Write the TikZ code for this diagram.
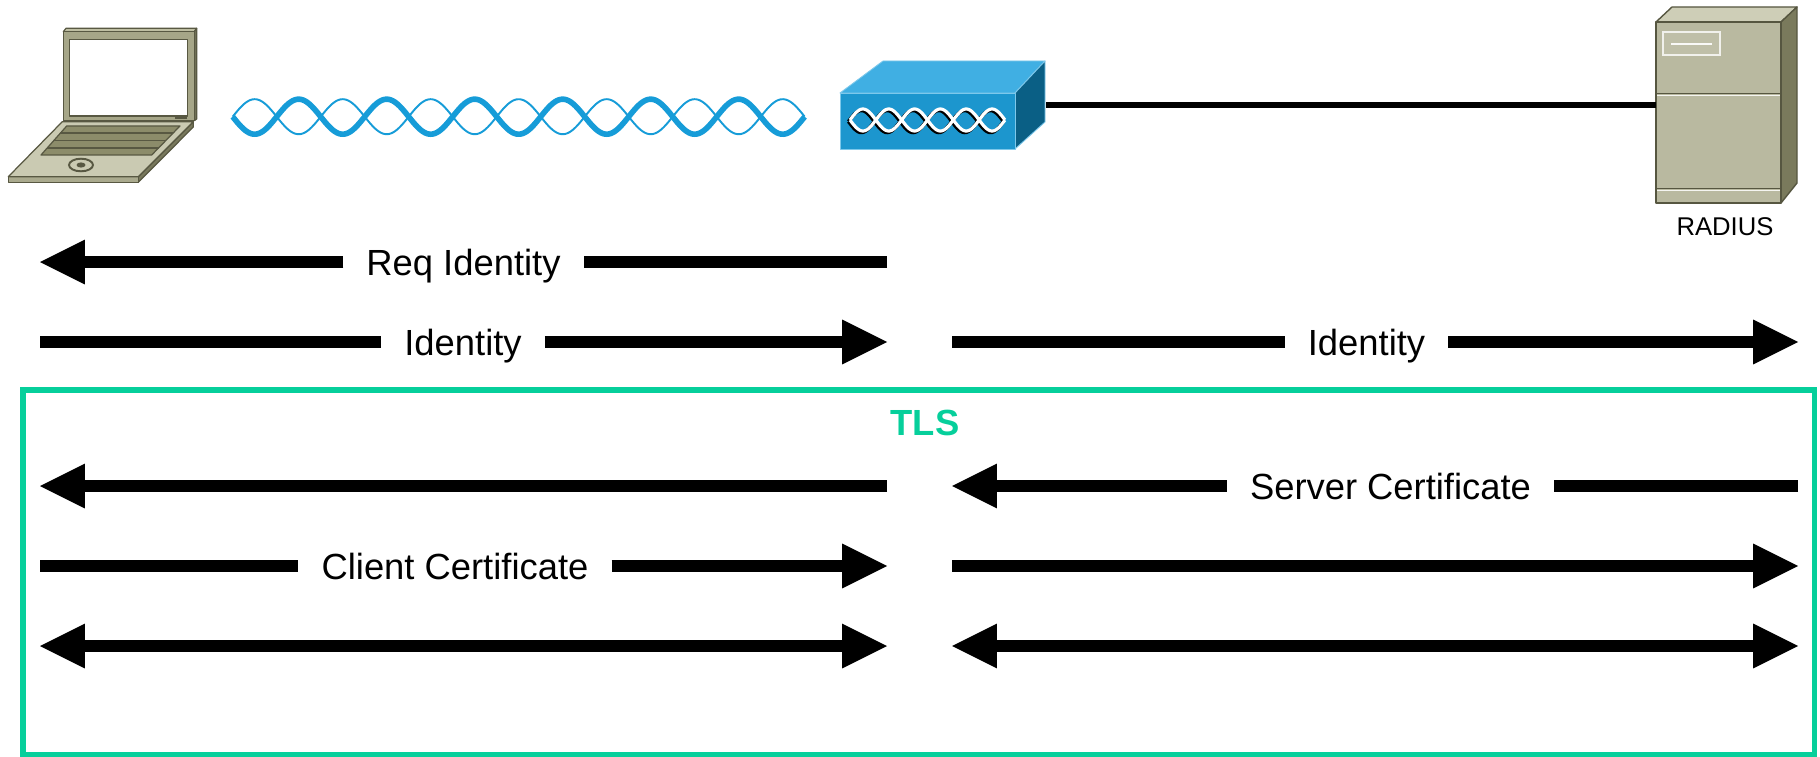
\documentclass[tikz,border=0pt]{standalone}
\usepackage{fontspec}
\setmainfont{Liberation Sans}
\usetikzlibrary{arrows.meta,fit,calc}

% laptop palette
\definecolor{lpLid}{RGB}{166,166,136}
\definecolor{lpLidTop}{RGB}{190,190,162}
\definecolor{lpLidSide}{RGB}{112,112,86}
\definecolor{lpBaseTop}{RGB}{202,202,178}
\definecolor{lpBaseFront}{RGB}{170,170,142}
\definecolor{lpBaseSide}{RGB}{120,120,92}
\definecolor{lpKeys}{RGB}{140,140,106}
\definecolor{lpLine}{RGB}{88,88,66}
% server palette
\definecolor{svFront}{RGB}{185,185,160}
\definecolor{svTop}{RGB}{206,206,183}
\definecolor{svSide}{RGB}{122,122,92}
\definecolor{svLine}{RGB}{86,86,64}
% access point palette
\definecolor{apTop}{RGB}{64,175,227}
\definecolor{apFront}{RGB}{28,150,206}
\definecolor{apSide}{RGB}{10,95,133}
\definecolor{apEdge}{RGB}{125,200,235}
% misc
\definecolor{radio}{RGB}{22,156,216}
\definecolor{tlsGreen}{RGB}{6,207,155}

\tikzset{
  >={Triangle[length=25.5pt,width=25.5pt,line width=0pt]},
  msg/.style={line width=6.8pt,black},
  lbl/.style={font=\fontsize{20.7pt}{24pt}\selectfont, inner xsep=13pt, inner ysep=0pt,
              text height=14.8pt, text depth=0pt, anchor=center},
  lpdraw/.style={draw=lpLine, line width=0.7pt, line join=round},
  svdraw/.style={draw=svLine, line width=0.8pt, line join=round},
  apdraw/.style={draw=apEdge, line width=0.5pt, line join=round},
}

\begin{document}
\begin{tikzpicture}[x=0.02cm, y=-0.02cm]
\useasboundingbox (0,0) rectangle (1820,757);

% ---------- laptop ----------
\filldraw[lpdraw, fill=lpLidTop] (63.3,31.7) -- (66,28.3) -- (196.7,28.3) -- (194.3,31.7) -- cycle;
\filldraw[lpdraw, fill=lpLidSide] (194.3,31.7) -- (196.7,28.3) -- (196.7,119) -- (194.3,120.7) -- cycle;
\filldraw[lpdraw, fill=lpLid] (63.3,31.7) rectangle (194.3,120.7);
\filldraw[lpdraw, fill=white] (69.3,39.3) rectangle (187.3,116);
\fill[lpLine] (175,116.8) rectangle (186.5,118.8);
\filldraw[lpdraw, fill=lpBaseSide] (138.3,176.7) -- (193.3,121.7) -- (193.3,127) -- (138.3,182.3) -- cycle;
\filldraw[lpdraw, fill=lpBaseFront] (8.3,176.7) rectangle (138.3,182.3);
\filldraw[lpdraw, fill=lpBaseTop] (62.3,121.7) -- (193.3,121.7) -- (138.3,176.7) -- (8.3,176.7) -- cycle;
\filldraw[lpdraw, fill=lpKeys] (66.7,126) -- (180,126) -- (151.7,155) -- (41,155) -- cycle;
\foreach \t in {0.25,0.5,0.75}
  \draw[lpLine, line width=0.9pt] ($(66.7,126)!\t!(41,155)$) -- ($(180,126)!\t!(151.7,155)$);
\draw[lpLine, line width=1.1pt] (81,165) ellipse [x radius=12, y radius=6.3];
\fill[lpLine] (81,165) ellipse [x radius=4.5, y radius=2.6];
\node[fit={(8,28) (197,182)}, inner sep=0pt] (laptop) {};

% ---------- radio link ----------
\draw[radio, line width=1.1pt] plot[domain=0:13, samples=400, smooth]
  ({232.7+\x*44.0},{116.7-17.5*sin(\x*180)});
\draw[radio, line width=3.2pt] plot[domain=0:13, samples=400, smooth]
  ({232.7+\x*44.0},{116.7+17.5*sin(\x*180)});

% ---------- access point ----------
\filldraw[apdraw, fill=apTop] (840,93) -- (883,61) -- (1045,61) -- (1015,93) -- cycle;
\filldraw[apdraw, fill=apSide] (1015,93) -- (1045,61) -- (1045,122) -- (1015,149) -- cycle;
\filldraw[apdraw, fill=apFront] (840,93) rectangle (1015,149);
\foreach \s in {1,-1}{
  \draw[black, line width=2pt] plot[domain=0:6, samples=200, smooth]
    ({848.5+\x*25.83},{121.5+\s*11*sin(\x*180)});
}
\foreach \s in {1,-1}{
  \draw[white, line width=1.8pt] plot[domain=0:6, samples=200, smooth]
    ({850+\x*25.83},{120+\s*11*sin(\x*180)});
}
\node[fit={(840,61) (1046,149)}, inner sep=0pt] (ap) {};

% ---------- RADIUS server ----------
\filldraw[svdraw, fill=svTop] (1656,22) -- (1672,7) -- (1797,7) -- (1781,22) -- cycle;
\filldraw[svdraw, fill=svSide] (1781,22) -- (1797,7) -- (1797,183) -- (1781,203) -- cycle;
\filldraw[svdraw, fill=svFront] (1656,22) rectangle (1781,203);
\draw[svLine, line width=1pt] (1656,93.5) -- (1781,93.5);
\draw[white!85!svFront, line width=0.8pt] (1657,95.5) -- (1780,95.5);
\draw[svLine, line width=1pt] (1656,188.5) -- (1781,188.5);
\draw[white!85!svFront, line width=0.8pt] (1657,190.5) -- (1780,190.5);
\filldraw[draw=white!80!svFront, fill=svFront!92!white, line width=0.8pt] (1663,32) rectangle (1720,55);
\draw[white!92!svFront, line width=1.3pt] (1671,44) -- (1712,44);
\node[fit={(1656,7) (1797,203)}, inner sep=0pt] (server) {};
\node[font=\fontsize{14.6pt}{17pt}\selectfont, inner sep=0pt, text height=10.45pt, text depth=0pt]
  (radius) at (1725,226.3) {RADIUS};

% wired link
\draw[black, line width=3.4pt] (ap.east) -- (server.west |- ap.east);

% ---------- message rows ----------
\coordinate (L1) at (40,262);   \coordinate (R1) at (887,262);
\coordinate (L2) at (40,342);   \coordinate (R2) at (887,342);
\coordinate (S2) at (952,342);  \coordinate (T2) at (1798,342);
\coordinate (L3) at (40,486);   \coordinate (R3) at (887,486);
\coordinate (S3) at (952,486);  \coordinate (T3) at (1798,486);
\coordinate (L4) at (40,566);   \coordinate (R4) at (887,566);
\coordinate (S4) at (952,566);  \coordinate (T4) at (1798,566);
\coordinate (L5) at (40,646);   \coordinate (R5) at (887,646);
\coordinate (S5) at (952,646);  \coordinate (T5) at (1798,646);

\node[lbl] (reqid) at (463.5,262) {Req Identity};
\node[lbl] (id1) at (463,342) {Identity};
\node[lbl] (id2) at (1366.5,342) {Identity};
\node[lbl] (srvcert) at (1390.5,486) {Server Certificate};
\node[lbl] (clicert) at (455,566) {Client Certificate};

% row 1
\draw[msg] (R1) -- (reqid.east);
\draw[msg,->] (reqid.west) -- (L1);
% row 2
\draw[msg] (L2) -- (id1.west);
\draw[msg,->] (id1.east) -- (R2);
\draw[msg] (S2) -- (id2.west);
\draw[msg,->] (id2.east) -- (T2);
% TLS exchange
\draw[tlsGreen, line width=3.1pt] (23,390) rectangle (1814.5,754.5);
\node[font=\fontsize{20.7pt}{24pt}\selectfont\bfseries, text=tlsGreen, inner sep=0pt,
      text height=14.8pt, text depth=0pt] (tls) at (925,422.5) {TLS};
% row 3
\draw[msg,->] (R3) -- (L3);
\draw[msg] (T3) -- (srvcert.east);
\draw[msg,->] (srvcert.west) -- (S3);
% row 4
\draw[msg] (L4) -- (clicert.west);
\draw[msg,->] (clicert.east) -- (R4);
\draw[msg,->] (S4) -- (T4);
% row 5
\draw[msg,<->] (L5) -- (R5);
\draw[msg,<->] (S5) -- (T5);
\end{tikzpicture}
\end{document}
